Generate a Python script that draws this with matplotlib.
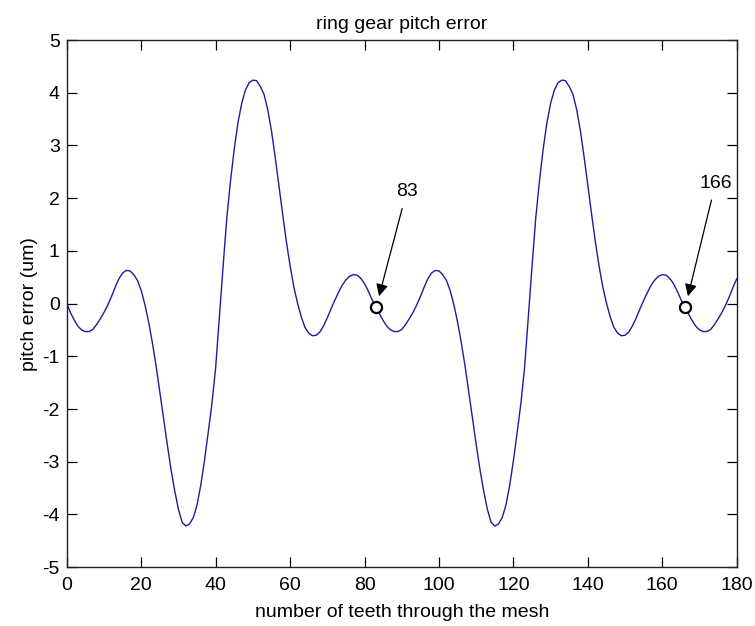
import matplotlib
matplotlib.use("Agg")
import matplotlib.pyplot as plt

# pitch error per tooth position, 0..180 teeth through the mesh
teeth = list(range(0, 181))
pitch_error = [
    0.00, -0.17, -0.31, -0.43, -0.50, -0.53, -0.53, -0.49, -0.40, -0.29,
    -0.17, -0.03, 0.13, 0.31, 0.47, 0.58, 0.63, 0.62, 0.55, 0.44,
    0.25, -0.02, -0.35, -0.74, -1.18, -1.67, -2.17, -2.67, -3.14, -3.55,
    -3.90, -4.15, -4.22, -4.18, -4.06, -3.82, -3.45, -2.98, -2.45, -1.90,
    -1.22, -0.25, 0.70, 1.62, 2.33, 2.93, 3.43, 3.80, 4.05, 4.19,
    4.24, 4.23, 4.12, 3.97, 3.68, 3.28, 2.78, 2.24, 1.70, 1.18,
    0.72, 0.32, 0.01, -0.25, -0.45, -0.56, -0.61, -0.60, -0.54, -0.42,
    -0.27, -0.10, 0.06, 0.21, 0.35, 0.45, 0.52, 0.55, 0.54, 0.48,
    0.38, 0.24, 0.08,
    -0.06, -0.19, -0.32, -0.43, -0.50, -0.53, -0.53, -0.49, -0.40, -0.29,
    -0.17, -0.03, 0.13, 0.31, 0.47, 0.58, 0.63, 0.62, 0.55, 0.44,
    0.25, -0.02, -0.35, -0.74, -1.18, -1.67, -2.17, -2.67, -3.14, -3.55,
    -3.90, -4.15, -4.22, -4.18, -4.06, -3.82, -3.45, -2.98, -2.45, -1.90,
    -1.22, -0.25, 0.70, 1.62, 2.33, 2.93, 3.43, 3.80, 4.05, 4.19,
    4.24, 4.23, 4.12, 3.97, 3.68, 3.28, 2.78, 2.24, 1.70, 1.18,
    0.72, 0.32, 0.01, -0.25, -0.45, -0.56, -0.61, -0.60, -0.54, -0.42,
    -0.27, -0.10, 0.06, 0.21, 0.35, 0.45, 0.52, 0.55, 0.54, 0.48,
    0.38, 0.24, 0.08,
    -0.06, -0.19, -0.32, -0.43, -0.50, -0.53, -0.53, -0.49, -0.40, -0.29,
    -0.17, -0.03, 0.13, 0.31, 0.47,
]

# one full revolution of the ring gear = 83 teeth
marked_teeth = [83, 166]
xticks = list(range(0, 181, 20))
yticks = list(range(-5, 6))

plt.rcParams["font.family"] = ["Liberation Sans", "DejaVu Sans"]
plt.rcParams["font.size"] = 14
plt.rcParams["axes.unicode_minus"] = False

fig = plt.figure(figsize=(7.55, 6.26), dpi=100)
ax = fig.add_axes([0.0884, 0.094, 0.8874, 0.842])

ax.plot(teeth, pitch_error, color="#1c1c9c", linewidth=1.0)

# label offsets for the two revolution markers
text_lift = {83: 2.18, 166: 2.34}
for t in marked_teeth:
    v = pitch_error[teeth.index(t)]
    ax.plot([t], [v], marker="o", markersize=8, markerfacecolor="white",
            markeredgecolor="black", markeredgewidth=1.6, zorder=5)
    ax.annotate(str(t), xy=(t + 0.9, v + 0.2), xytext=(t + 8.3, v + text_lift[t]),
                ha="center", va="center", fontsize=14,
                arrowprops=dict(arrowstyle="-|>", color="black", lw=0.9,
                                mutation_scale=18, shrinkA=4, shrinkB=0))

ax.set_xlim(0, 180)
ax.set_ylim(-5, 5)
ax.set_xticks(xticks)
ax.set_yticks(yticks)
ax.tick_params(direction="in", length=7, width=0.9, top=True, right=True)
ax.tick_params(axis="x", pad=7)
ax.tick_params(axis="y", pad=5)
for s in ax.spines.values():
    s.set_linewidth(1.0)
    s.set_color("#222222")

ax.set_title("ring gear pitch error", fontsize=14, pad=8)
ax.set_xlabel("number of teeth through the mesh", fontsize=14, labelpad=7)
ax.set_ylabel("pitch error (um)", fontsize=14, labelpad=3)

fig.savefig("out.png", dpi=100)
